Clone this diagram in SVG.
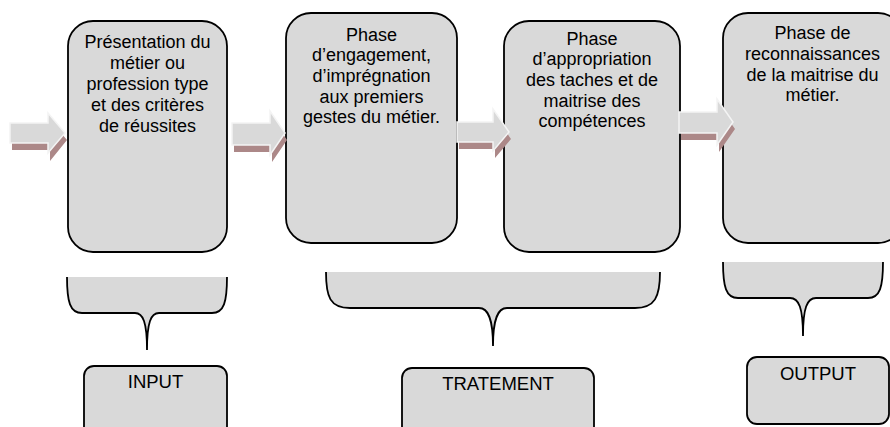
<svg xmlns="http://www.w3.org/2000/svg" width="890" height="427" viewBox="0 0 890 427">
<style>
.box{fill:#d9d9d9;stroke:#000;stroke-width:1.8}
.brace{fill:#d9d9d9;stroke:#000;stroke-width:1.8}
.t{font-family:"Liberation Sans",Arial,sans-serif;font-size:18px;fill:#000;text-anchor:middle}
.lab{font-size:18.5px}
.arr{fill:#d9d9d9;stroke:#f4f4f4;stroke-width:1.5}
.sh{fill:#ac8888}
</style>
<rect width="890" height="427" fill="#fff"/>
<g id="phase1">
<rect class="box" x="68" y="21" width="159" height="231" rx="25"/>
<text class="t"><tspan x="147.5" y="48">Présentation du</tspan><tspan x="147.5" y="69">métier ou</tspan><tspan x="147.5" y="89.5">profession type</tspan><tspan x="147.5" y="110.5">et des critères</tspan><tspan x="147.5" y="131.5">de réussites</tspan></text>
</g>
<g id="phase2">
<rect class="box" x="286" y="13" width="171" height="230" rx="25"/>
<text class="t"><tspan x="371.5" y="40.5">Phase</tspan><tspan x="371.5" y="61">d’engagement,</tspan><tspan x="371.5" y="82">d’imprégnation</tspan><tspan x="371.5" y="102.5">aux premiers</tspan><tspan x="371.5" y="123">gestes du métier.</tspan></text>
</g>
<g id="phase3">
<rect class="box" x="504" y="21" width="176" height="231" rx="25"/>
<text class="t"><tspan x="592" y="44.5">Phase</tspan><tspan x="592" y="65">d’appropriation</tspan><tspan x="592" y="86">des taches et de</tspan><tspan x="592" y="106.5">maitrise des</tspan><tspan x="592" y="127">compétences</tspan></text>
</g>
<g id="phase4">
<rect class="box" x="723" y="13" width="180" height="230" rx="25"/>
<text class="t"><tspan x="812.5" y="38.5">Phase de</tspan><tspan x="812.5" y="60">reconnaissances</tspan><tspan x="812.5" y="80.5">de la maitrise du</tspan><tspan x="812.5" y="101">métier.</tspan></text>
</g>
<g id="connectors">
<g id="arrow1">
<polygon class="sh" points="12,130 50,130 50,120 67,140 50,161 50,150 12,150"/>
<polygon class="arr" points="10,123 48,123 48,113 65,133 48,153 48,143 10,143"/>
</g>
<g id="arrow2">
<polygon class="sh" points="234,130 272,130 272,118 287,140 272,162 272,152 234,152"/>
<polygon class="arr" points="232,123 270,123 270,111 285,133 270,155 270,145 232,145"/>
</g>
<g id="arrow3">
<polygon class="sh" points="459,129 495,129 495,116 511,139 495,158 495,149 459,149"/>
<polygon class="arr" points="457,122 493,122 493,109 509,132 493,151 493,142 457,142"/>
</g>
<g id="arrow4">
<polygon class="sh" points="681,119 719,119 719,106 735,129 719,152 719,140 681,140"/>
<polygon class="arr" points="679,112 717,112 717,99 733,122 717,145 717,133 679,133"/>
</g>
</g>
<g id="brace-input">
<path class="brace" d="M67,277 C67,302 70,313 82,313 L135,313 C143,313 147,322 147,350 C147,322 151,313 159,313 L212,313 C224,313 227,302 227,277"/>
</g>
<g id="brace-traitement">
<path class="brace" d="M326,272 C326,297 330,308 350,308 L479,308 C488,308 493,318 493,346 C493,318 498,308 507,308 L635,308 C655,308 660,297 660,272"/>
</g>
<g id="brace-output">
<path class="brace" d="M723,262 C723,287 726,298 738,298 L790,298 C799,298 803,308 803,336 C803,308 807,298 816,298 L868,298 C880,298 883,287 883,262"/>
</g>
<g id="input">
<rect class="box" x="84" y="366" width="143" height="75" rx="10"/>
<text class="t lab" x="155.5" y="388">INPUT</text>
</g>
<g id="traitement">
<rect class="box" x="402" y="368" width="192" height="75" rx="10"/>
<text class="t lab" x="498" y="390">TRATEMENT</text>
</g>
<g id="output">
<rect class="box" x="747" y="357" width="142" height="67" rx="10"/>
<text class="t lab" x="818" y="380">OUTPUT</text>
</g>
</svg>
